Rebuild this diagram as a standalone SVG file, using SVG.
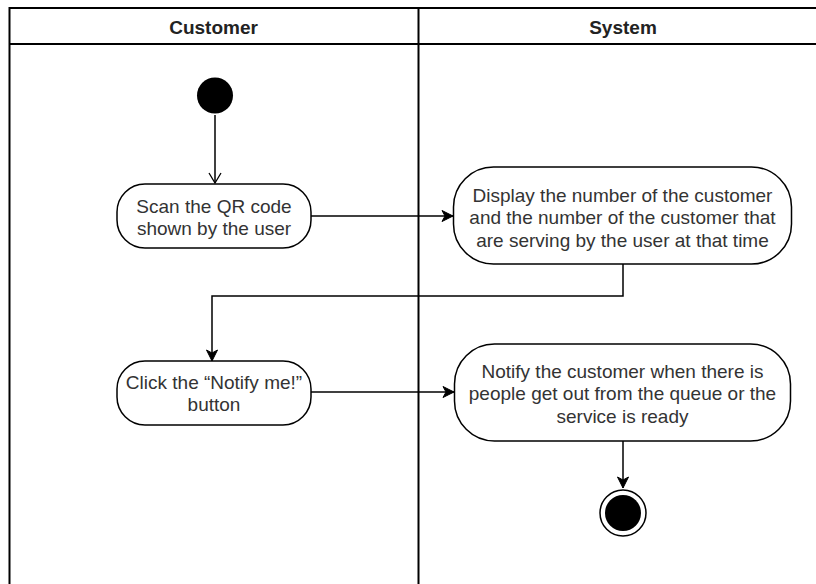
<svg xmlns="http://www.w3.org/2000/svg" width="816" height="584" viewBox="0 0 816 584">
<defs>
<style>
.frame{fill:none;stroke:#000;stroke-width:2}
.act{fill:#fff;stroke:#000;stroke-width:1.5}
.t{font-family:"Liberation Sans",Arial,sans-serif;font-size:19px;fill:#333;text-anchor:middle}
.h{font-family:"Liberation Sans",Arial,sans-serif;font-size:19px;font-weight:bold;fill:#222;text-anchor:middle}
.c{fill:none;stroke:#000;stroke-width:1.5}
</style>
<marker id="open" markerWidth="14" markerHeight="14" refX="12" refY="7" orient="auto" markerUnits="userSpaceOnUse">
<path d="M2,1 L12,7 L2,13" fill="none" stroke="#000" stroke-width="1.3"/>
</marker>
<marker id="fill" markerWidth="14" markerHeight="14" refX="12" refY="7" orient="auto" markerUnits="userSpaceOnUse">
<path d="M1,1.5 L12,7 L1,12.5 L4,7 Z" fill="#000" stroke="#000" stroke-width="1"/>
</marker>
</defs>
<rect width="816" height="584" fill="#fff"/>
<g id="pool">
<rect class="frame" x="9.5" y="8" width="818" height="590"/>
<line class="frame" x1="9.5" y1="44" x2="828" y2="44"/>
<line class="frame" x1="418.5" y1="8" x2="418.5" y2="600"/>
<text class="h" x="213.5" y="34">Customer</text>
<text class="h" x="623" y="34">System</text>
</g>
<g id="connectors">
<line class="c" x1="215" y1="115" x2="215" y2="183" marker-end="url(#open)"/>
<line class="c" x1="311" y1="216" x2="453" y2="216" marker-end="url(#fill)"/>
<polyline class="c" points="623,264 623,296 212,296 212,361" marker-end="url(#fill)"/>
<line class="c" x1="311" y1="392" x2="454" y2="392" marker-end="url(#fill)"/>
<line class="c" x1="623" y1="441" x2="623" y2="488" marker-end="url(#fill)"/>
</g>
<g id="start">
<circle cx="215" cy="95.5" r="18" fill="#000"/>
</g>
<g id="scan">
<rect class="act" x="117" y="184" width="194" height="64" rx="28"/>
<text class="t" x="214" y="213">Scan the QR code</text>
<text class="t" x="214" y="235">shown by the user</text>
</g>
<g id="display">
<rect class="act" x="453.5" y="167" width="338" height="97" rx="40"/>
<text class="t" x="622.5" y="202">Display the number of the customer</text>
<text class="t" x="622.5" y="224">and the number of the customer that</text>
<text class="t" x="622.5" y="247">are serving by the user at that time</text>
</g>
<g id="click">
<rect class="act" x="117" y="361" width="194" height="64" rx="28"/>
<text class="t" x="214" y="389">Click the “Notify me!”</text>
<text class="t" x="214" y="411">button</text>
</g>
<g id="notify">
<rect class="act" x="454.5" y="344" width="336" height="97" rx="40"/>
<text class="t" x="622.5" y="378">Notify the customer when there is</text>
<text class="t" x="622.5" y="400">people get out from the queue or the</text>
<text class="t" x="622.5" y="423">service is ready</text>
</g>
<g id="end">
<circle cx="623" cy="513" r="23" fill="#fff" stroke="#000" stroke-width="1.5"/>
<circle cx="623" cy="513" r="18" fill="#000"/>
</g>
</svg>
